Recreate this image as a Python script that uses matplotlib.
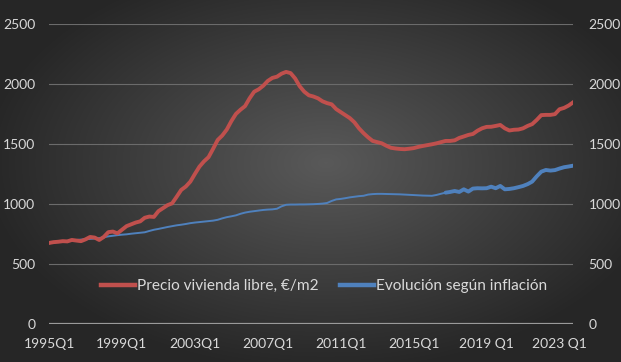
import numpy as np
import matplotlib.pyplot as plt
from matplotlib.lines import Line2D

# quarterly series, 1995Q1 .. 2023Q4
precio = [675, 682, 685, 690, 688, 700, 695, 690, 705, 725, 720, 700, 725, 765, 770, 755,
          785, 815, 830, 845, 855, 885, 895, 892, 940, 965, 990, 1005, 1060, 1117, 1145, 1186,
          1250, 1311, 1355, 1390, 1460, 1533, 1570, 1620, 1690, 1750, 1785, 1815, 1880, 1935, 1955, 1985,
          2025, 2050, 2060, 2085, 2100, 2090, 2045, 1980, 1935, 1905, 1895, 1880, 1855, 1840, 1830, 1790,
          1765, 1740, 1715, 1680, 1630, 1590, 1555, 1525, 1515, 1505, 1485, 1468, 1462, 1458, 1456, 1460,
          1465, 1475, 1483, 1490, 1497, 1505, 1515, 1525, 1525, 1530, 1550, 1562, 1575, 1583, 1610, 1630,
          1642, 1643, 1650, 1658, 1630, 1612, 1618, 1620, 1630, 1650, 1665, 1700, 1740, 1742, 1742, 1748,
          1789, 1800, 1820, 1847]
inflacion = [672, 678, 684, 688, 692, 696, 700, 703, 706, 709, 712, 715, 722, 730, 735, 740,
             744, 747, 752, 756, 760, 764, 775, 785, 792, 800, 808, 815, 822, 827, 833, 840,
             845, 849, 853, 857, 861, 868, 880, 890, 897, 905, 918, 928, 935, 940, 945, 950,
             953, 955, 960, 980, 993, 995, 995, 996, 996, 997, 998, 1000, 1003, 1008, 1025, 1038,
             1042, 1048, 1055, 1060, 1065, 1068, 1078, 1082, 1084, 1084, 1083, 1082, 1081, 1080, 1078, 1076,
             1074, 1072, 1070, 1069, 1068, 1075, 1085, 1094, 1100, 1108, 1100, 1122, 1103, 1128, 1131, 1130,
             1131, 1144, 1131, 1150, 1122, 1125, 1131, 1140, 1150, 1165, 1186, 1230, 1269, 1283, 1278, 1282,
             1295, 1306, 1312, 1319]
tick_pos = [0, 16, 32, 48, 64, 80, 96, 112]
tick_labels = ["1995Q1", "1999Q1", "2003Q1", "2007Q1", "2011Q1", "2015Q1", "2019 Q1", "2023 Q1"]
serie_names = ["Precio vivienda libre, €/m2", "Evolución según inflación"]

red = "#C0504D"
blue = "#4F81BD"
txt = "#D9D9D9"
plt.rcParams['font.family'] = ['Lato', 'DejaVu Sans']

fig = plt.figure(figsize=(6.21, 3.62), dpi=100)

# radial dark background
bg = fig.add_axes([0, 0, 1, 1])
gx, gy = np.meshgrid(np.linspace(-1, 1, 621), np.linspace(-1, 1, 362))
r = np.sqrt(((gx - 0.05) / 1.05) ** 2 + ((gy + 0.1) / 1.1) ** 2)
shade = np.clip(0.35 - 0.19 * r, 0.15, 0.35)
bg.imshow(np.dstack([shade] * 3), aspect='auto', extent=[0, 1, 0, 1])
bg.axis('off')

ax = fig.add_axes([0.079, 0.105, 0.844, 0.829])
ax.patch.set_alpha(0)
x = np.arange(len(precio))
ax.set_xlim(0, len(precio) - 1)
ax.set_ylim(0, 2500)

for s in ax.spines.values():
    s.set_visible(False)
ax.axhline(0, color="#9a9a9a", lw=1.6, zorder=1)
ax.set_yticks(range(0, 2501, 500))
ax.grid(axis='y', color="#6b6b6b", lw=0.8)
ax.set_axisbelow(True)
ax.tick_params(length=0, colors=txt, labelsize=10)
ax.tick_params(axis='y', pad=10)
ax.tick_params(axis='x', pad=10)
ax.set_xticks(tick_pos)
ax.set_xticklabels(tick_labels)

ax2 = ax.twinx()
ax2.set_ylim(0, 2500)
ax2.set_yticks(range(0, 2501, 500))
for s in ax2.spines.values():
    s.set_visible(False)
ax2.tick_params(length=0, colors=txt, labelsize=10, pad=11)

ax.plot(x, precio, color=red, lw=2.8, solid_joinstyle='round', zorder=3)
k = 87
ax.plot(x[:k + 1], inflacion[:k + 1], color=blue, lw=1.4, zorder=2)
ax.plot(x[k:], inflacion[k:], color=blue, lw=2.8, solid_capstyle='round', zorder=2)

handles = [Line2D([], [], color=red, lw=3.2), Line2D([], [], color=blue, lw=3.2)]
ax.legend(handles, serie_names, loc='upper left', bbox_to_anchor=(0.072, 0.195), ncol=2,
          frameon=False, fontsize=11.1, labelcolor=txt, handlelength=2.2, handletextpad=0.15,
          columnspacing=1.4)

fig.savefig("out.png", dpi=100)
